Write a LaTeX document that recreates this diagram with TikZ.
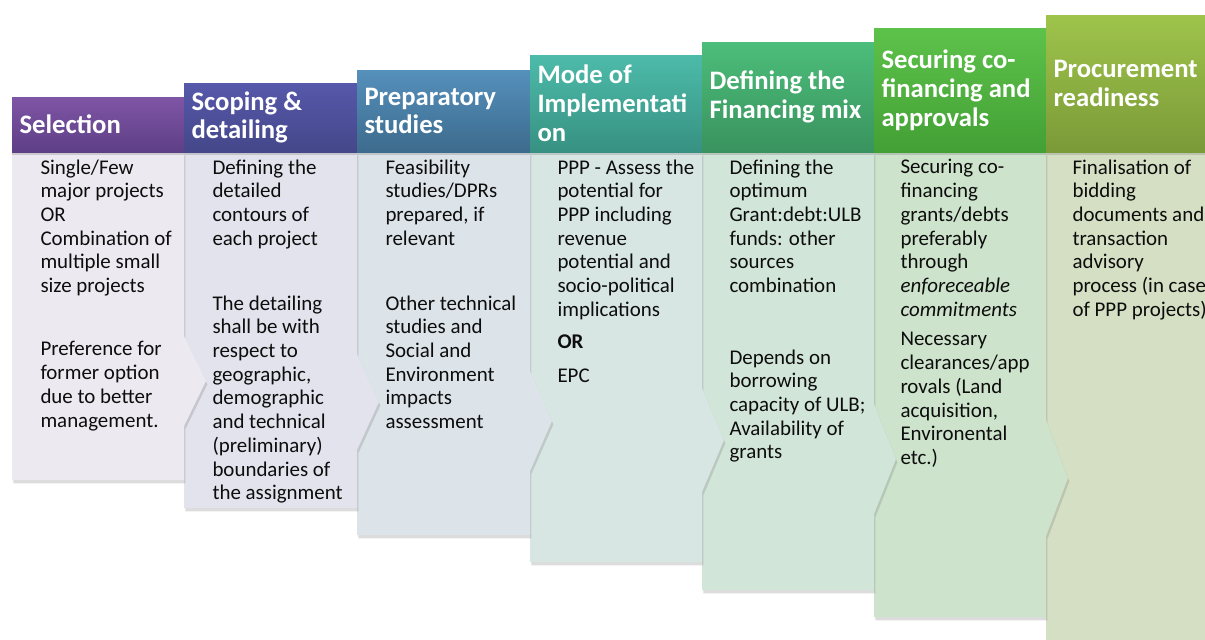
\documentclass[tikz,border=0pt]{standalone}
\usepackage{fontspec}
\setmainfont{Carlito}
\usetikzlibrary{shadows}

% header colours (top / bottom of the gradient)
\definecolor{selTop}{HTML}{7F55A5}\definecolor{selBot}{HTML}{5E3F86}
\definecolor{scpTop}{HTML}{5658AA}\definecolor{scpBot}{HTML}{45478A}
\definecolor{prpTop}{HTML}{5590BC}\definecolor{prpBot}{HTML}{3D6B8D}
\definecolor{modTop}{HTML}{4DBBAA}\definecolor{modBot}{HTML}{379182}
\definecolor{finTop}{HTML}{4CBD7A}\definecolor{finBot}{HTML}{39935E}
\definecolor{secTop}{HTML}{5DC24A}\definecolor{secBot}{HTML}{43A035}
\definecolor{prcTop}{HTML}{9FC44B}\definecolor{prcBot}{HTML}{7A9A38}
% body colours
\definecolor{selBody}{HTML}{ECEAF0}
\definecolor{scpBody}{HTML}{E2E3EC}
\definecolor{prpBody}{HTML}{DCE3E9}
\definecolor{modBody}{HTML}{D8E6E3}
\definecolor{finBody}{HTML}{D2E5D9}
\definecolor{secBody}{HTML}{CDE3CB}
\definecolor{prcBody}{HTML}{D5DFC3}

\tikzset{every picture/.style={line width=0.75pt},
  stagebody/.style={drop shadow={opacity=0.28,shadow xshift=1pt,shadow yshift=-2.5pt}},
  stagehead/.style={drop shadow={opacity=0.3,shadow xshift=0pt,shadow yshift=-2.5pt}},
  headtext/.style={anchor=west,inner sep=0pt,align=left,text=white,font=\fontsize{20}{21.6}\selectfont\bfseries},
  bodytext/.style={anchor=north west,inner sep=0pt,align=left,text=black!95,font=\fontsize{15.7}{17.8}\selectfont},
  onetext/.style={anchor=base west,inner sep=0pt,text=black!95,font=\fontsize{15.7}{17.8}\selectfont}}

\begin{document}
\begin{tikzpicture}[x=0.75pt,y=0.75pt,yscale=-1,xscale=1]
\useasboundingbox (0,0) rectangle (1205,639);
\clip (0,0) rectangle (1205,639);

%Body: Procurement
\fill [stagebody, fill=prcBody] (1046,152) -- (1230,152) -- (1230,660) -- (1046,660) -- cycle ;
%Body: Securing
\fill [stagebody, fill=secBody] (874,152) -- (1046,152) -- (1046,420) -- (1068,478) -- (1046,536) -- (1046,617) -- (874,617) -- cycle ;
%Body: Financing
\fill [stagebody, fill=finBody] (702,152) -- (874,152) -- (874,404) -- (896,459) -- (874,514) -- (874,590) -- (702,590) -- cycle ;
%Body: Mode
\fill [stagebody, fill=modBody] (530,152) -- (702,152) -- (702,388) -- (724,440) -- (702,492) -- (702,562) -- (530,562) -- cycle ;
%Body: Preparatory
\fill [stagebody, fill=prpBody] (357,152) -- (530,152) -- (530,371) -- (552,421) -- (530,471) -- (530,535) -- (357,535) -- cycle ;
%Body: Scoping
\fill [stagebody, fill=scpBody] (184,152) -- (357,152) -- (357,354) -- (379,402) -- (357,450) -- (357,508) -- (184,508) -- cycle ;
%Body: Selection
\fill [stagebody, fill=selBody] (12,152) -- (184,152) -- (184,336) -- (206,381) -- (184,426) -- (184,480) -- (12,480) -- cycle ;

%Header bars
\shade [stagehead, top color=selTop, bottom color=selBot] (12,97) rectangle (184,152) ;
\shade [stagehead, top color=scpTop, bottom color=scpBot] (184,83) rectangle (357,152) ;
\shade [stagehead, top color=prpTop, bottom color=prpBot] (357,70) rectangle (530,152) ;
\shade [stagehead, top color=modTop, bottom color=modBot] (530,55) rectangle (702,152) ;
\shade [stagehead, top color=finTop, bottom color=finBot] (702,42) rectangle (874,152) ;
\shade [stagehead, top color=secTop, bottom color=secBot] (874,28) rectangle (1046,152) ;
\shade [stagehead, top color=prcTop, bottom color=prcBot] (1046,15) rectangle (1230,152) ;

% Header Text
\draw (19,124.5) node [headtext] (hSel) {Selection};
\draw (191,117.5) node [headtext] (hScp) {Scoping \&\\detailing};
\draw (364,111) node [headtext] (hPrp) {Preparatory\\studies};
\draw (537,103.5) node [headtext] (hMod) {Mode of\\Implementati\\on};
\draw (709,97) node [headtext] (hFin) {Defining the\\Financing mix};
\draw (881,90) node [headtext] (hSec) {Securing co-\\financing and\\approvals};
\draw (1053,83.5) node [headtext] (hPrc) {Procurement\\readiness};

% Text Node: Selection
\draw (40,159) node [bodytext] (tSelA) {Single/Few\\major projects\\OR\\Combination of\\multiple small\\size projects};
\draw (40,341) node [bodytext] (tSelB) {Preference for\\former option\\due to better\\management.};
% Text Node: Scoping
\draw (212,159) node [bodytext] (tScpA) {Defining the\\detailed\\contours of\\each project};
\draw (212,295) node [bodytext] (tScpB) {The detailing\\shall be with\\respect to\\geographic,\\demographic\\and technical\\(preliminary)\\boundaries of\\the assignment};
% Text Node: Preparatory
\draw (385,159) node [bodytext] (tPrpA) {Feasibility\\studies/DPRs\\prepared, if\\relevant};
\draw (385,295) node [bodytext] (tPrpB) {Other technical\\studies and\\Social and\\Environment\\impacts\\assessment};
% Text Node: Mode
\draw (557,159) node [bodytext] (tModA) {PPP - Assess the\\potential for\\PPP including\\revenue\\potential and\\socio-political\\implications};
\draw (557,348) node [onetext] (tModB) {\bfseries OR};
\draw (557,382) node [onetext] (tModC) {EPC};
% Text Node: Financing
\draw (729,159) node [bodytext] (tFinA) {Defining the\\optimum\\Grant:debt:ULB\\funds: other\\sources\\combination};
\draw (729,349) node [bodytext] (tFinB) {Depends on\\borrowing\\capacity of ULB;\\Availability of\\grants};
% Text Node: Securing
\draw (900,159) node [bodytext] (tSecA) {Securing co-\\financing\\grants/debts\\preferably\\through\\\itshape enforeceable\\\itshape commitments};
\draw (900,332) node [bodytext] (tSecB) {Necessary\\clearances/app\\rovals (Land\\acquisition,\\Environental\\etc.)};
% Text Node: Procurement
\draw (1072,159) node [bodytext] (tPrcA) {Finalisation of\\bidding\\documents and\\transaction\\advisory\\process (in case\\of PPP projects)};

\end{tikzpicture}
\end{document}
